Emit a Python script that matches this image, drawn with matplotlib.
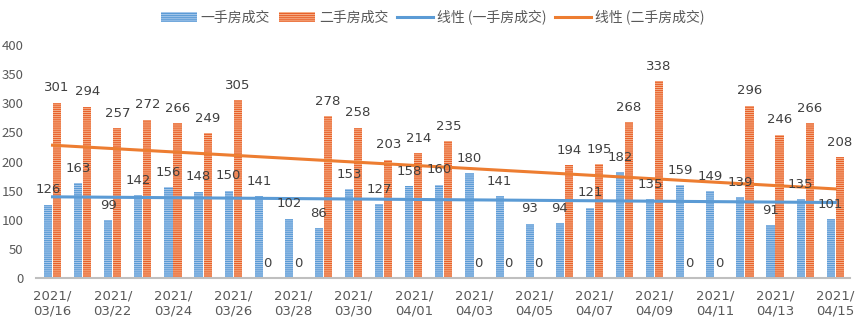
import matplotlib
matplotlib.use('Agg')
import matplotlib.pyplot as plt
import numpy as np

plt.rcParams['font.family'] = ['Noto Sans CJK SC', 'DejaVu Sans']
plt.rcParams['hatch.linewidth'] = 0.8

# data
dates = ['2021/\n03/16', '2021/\n03/21', '2021/\n03/22', '2021/\n03/23', '2021/\n03/24',
         '2021/\n03/25', '2021/\n03/26', '2021/\n03/27', '2021/\n03/28', '2021/\n03/29',
         '2021/\n03/30', '2021/\n03/31', '2021/\n04/01', '2021/\n04/02', '2021/\n04/03',
         '2021/\n04/04', '2021/\n04/05', '2021/\n04/06', '2021/\n04/07', '2021/\n04/08',
         '2021/\n04/09', '2021/\n04/10', '2021/\n04/11', '2021/\n04/12', '2021/\n04/13',
         '2021/\n04/14', '2021/\n04/15']
new_homes = [126, 163, 99, 142, 156, 148, 150, 141, 102, 86, 153, 127, 158, 160,
             180, 141, 93, 94, 121, 182, 135, 159, 149, 139, 91, 135, 101]
resale = [301, 294, 257, 272, 266, 249, 305, 0, 0, 278, 258, 203, 214, 235,
          0, 0, 0, 194, 195, 268, 338, 0, 0, 296, 246, 266, 208]

blue = '#5b9bd5'
orange = '#ed7d31'
txt = '#404040'

x = np.arange(len(dates))
w = 0.27
off = 0.15

fig = plt.figure(figsize=(8.65, 3.24), dpi=100)
ax = fig.add_axes([0.0416, 0.142, 0.9414, 0.719])

b1 = ax.bar(x - off, new_homes, w, facecolor='#a9c9ec', edgecolor=blue,
            linewidth=0, hatch='-' * 8, label='一手房成交')
b2 = ax.bar(x + off, resale, w, facecolor='#f6b48e', edgecolor='#e8612a',
            linewidth=0, hatch='-' * 8, label='二手房成交')

# linear trend lines
k1 = np.polyfit(x, new_homes, 1)
k2 = np.polyfit(x, resale, 1)
l1, = ax.plot(x, np.polyval(k1, x), color=blue, lw=2.2, label='线性 (一手房成交)')
l2, = ax.plot(x, np.polyval(k2, x), color=orange, lw=2.2, label='线性 (二手房成交)')

for i in x:
    ax.annotate(str(new_homes[i]), (i - off, new_homes[i]), xytext=(0, 6),
                textcoords='offset points', ha='center', va='bottom',
                fontsize=9.5, color=txt, family=['DejaVu Sans'])
    ax.annotate(str(resale[i]), (i + off, resale[i]), xytext=(0, 6),
                textcoords='offset points', ha='center', va='bottom',
                fontsize=9.5, color=txt, family=['DejaVu Sans'])

ax.set_xlim(-0.55, 26.5)
ax.set_ylim(0, 400)
ax.set_yticks(range(0, 401, 50))
ax.set_xticks(x[::2])
ax.set_xticklabels(dates[::2], family=['DejaVu Sans'])
ax.tick_params(axis='both', length=0, labelsize=9.5, colors='#595959')
ax.tick_params(axis='y', pad=9)
ax.tick_params(axis='x', pad=8)
for s in ['top', 'right', 'left']:
    ax.spines[s].set_visible(False)
ax.spines['bottom'].set_color('#bfbfbf')
ax.spines['bottom'].set_linewidth(1.5)

fig.legend(handles=[b1, b2, l1, l2], loc='center', bbox_to_anchor=(0.5, 0.947),
           ncol=4, frameon=False, fontsize=10, labelcolor='#595959',
           handlelength=2.6, handletextpad=0.3, columnspacing=0.6)

fig.savefig('out.png', dpi=100)
